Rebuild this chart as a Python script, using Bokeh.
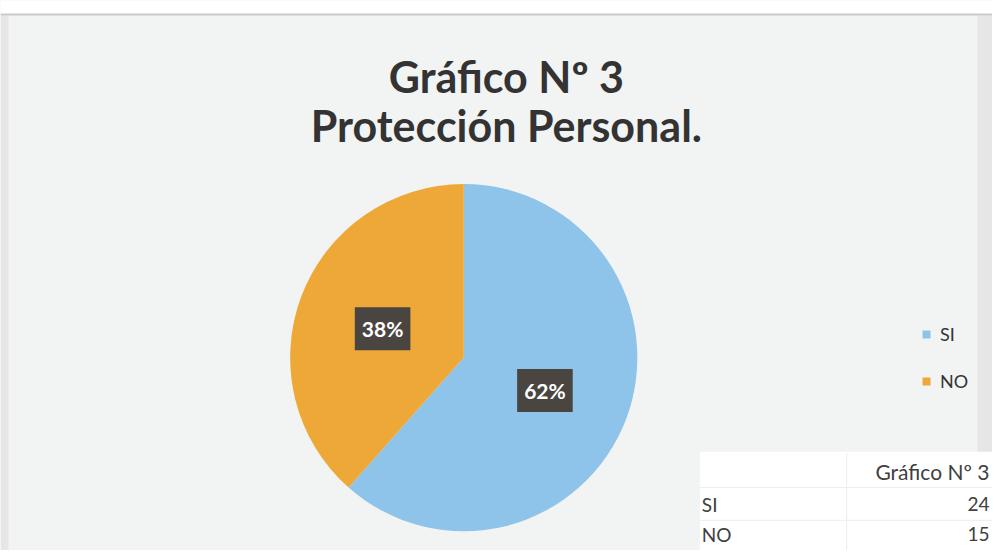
import math
from bokeh.plotting import figure
from bokeh.models import ColumnDataSource, Range1d, Legend, LegendItem
from bokeh.core.properties import value
from bokeh.embed import file_html
from bokeh.resources import INLINE

# ---- data ----
categories = ["SI", "NO"]
counts = [24, 15]
colors = ["#8fc4ea", "#eda838"]
title_lines = ["Gráfico Nº 3", "Protección Personal."]
table_header = "Gráfico Nº 3"

total = sum(counts)
fracs = [c / total for c in counts]
pct_labels = [f"{round(f * 100)}%" for f in fracs]

# wedge angles: start at top, going clockwise
starts, ends, mids = [], [], []
a = math.pi / 2
for f in fracs:
    s = a
    e = a - f * 2 * math.pi
    starts.append(s)
    ends.append(e)
    mids.append((s + e) / 2)
    a = e

W, H = 992, 550
SC = W / 1000.0
YR = H / SC
# data coords: x = reference x, y = 558 - reference y (equal scaling)
p = figure(width=W, height=H, output_backend="svg", toolbar_location=None,
           x_range=Range1d(0, 1000), y_range=Range1d(558 - YR, 558),
           min_border=0, border_fill_color="#f2f3f3",
           background_fill_color="#f2f3f3", outline_line_color=None)
p.axis.visible = False
p.grid.visible = False


def Y(y):
    return 558 - y


# scan shading: slightly darker edges
p.quad(left=[0], right=[8], bottom=[0], top=[Y(15)], fill_color="#e6e6e6", line_color=None)
p.quad(left=[985], right=[1000], bottom=[0], top=[Y(15)], fill_color="#e6e6e6", line_color=None)
# top white band of the scan
p.quad(left=[0], right=[1000], bottom=[Y(14)], top=[558], fill_color="white", line_color=None)
p.segment(x0=[0], y0=[Y(14)], x1=[1000], y1=[Y(14)], line_color="#cacaca", line_width=2)

cx, cy, r = 467, Y(360), 175
src = ColumnDataSource(dict(cat=categories, start=starts, end=ends, color=colors,
                            lx=[cx + 0.5 * r * math.cos(m) for m in mids],
                            ly=[cy + 0.5 * r * math.sin(m) - 2 for m in mids],
                            lab=pct_labels))
wr = p.wedge(x=cx, y=cy, radius=r, start_angle="start", end_angle="end",
             direction="clock", fill_color="color", line_color=None, source=src)

p.text(x="lx", y="ly", text="lab", source=src, text_align="center", text_baseline="middle",
       text_color="white", text_font=value("Lato"), text_font_style="bold",
       text_font_size="21px", background_fill_color="#4a4541",
       padding=[7, 9])

# title
p.text(x=[510, 510], y=[Y(77), Y(126)], text=title_lines, text_align="center",
       text_baseline="middle", text_color="#333333", text_font=value("Lato"),
       text_font_style="bold", text_font_size="43px")

# legend
legend = Legend(items=[LegendItem(label=c, renderers=[wr], index=i) for i, c in enumerate(categories)],
                location=(int(929 * SC), 158), orientation="vertical",
                glyph_width=10, glyph_height=10, spacing=25, padding=0, margin=0,
                label_text_font="Lato", label_text_font_size="18px",
                label_text_color="#333333", label_standoff=9,
                background_fill_alpha=0, border_line_color=None)
p.add_layout(legend)

# data table at bottom right
p.quad(left=[705], right=[1000], bottom=[0], top=[Y(455)], fill_color="white", line_color=None)
p.segment(x0=[705, 705], y0=[Y(491), Y(524)], x1=[1000, 1000], y1=[Y(491), Y(524)],
          line_color="#ededed", line_width=1)
p.segment(x0=[853], y0=[0], x1=[853], y1=[Y(456)], line_color="#ededed", line_width=1)
p.text(x=[997], y=[Y(475)], text=[table_header], text_align="right", text_baseline="middle",
       text_color="#404040", text_font=value("Lato"), text_font_size="21px")
row_y = [Y(508), Y(538)]
p.text(x=[707, 707], y=row_y, text=categories, text_align="left", text_baseline="middle",
       text_color="#404040", text_font=value("Lato"), text_font_size="19px")
p.text(x=[997, 997], y=row_y, text=[str(c) for c in counts], text_align="right",
       text_baseline="middle", text_color="#404040", text_font=value("Lato"), text_font_size="19px")

open("out.html", "w").write(file_html(p, INLINE))
